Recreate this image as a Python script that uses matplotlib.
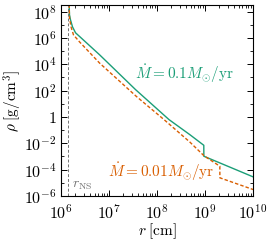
import numpy as np
import matplotlib
matplotlib.use("Agg")
import matplotlib.pyplot as plt
from matplotlib.ticker import FixedLocator, FuncFormatter, NullFormatter

plt.rcParams['mathtext.fontset'] = 'cm'
plt.rcParams['font.family'] = 'serif'
plt.rcParams['font.serif'] = ['cmr10', 'DejaVu Serif']
plt.rcParams['axes.unicode_minus'] = False

# data: log10 of radius [cm] and density [g/cm^3]
logr_high = [6.165, 6.177, 6.198, 6.24, 6.303, 6.804, 7.555, 8.25, 8.683, 8.975, 8.976, 10.004]
logrho_high = [9.0, 7.75, 7.37, 6.84, 6.39, 4.72, 2.07, -0.20, -1.34, -2.15, -2.98, -4.55]

logr_low = [6.165, 6.177, 6.209, 6.26, 6.386, 6.804, 7.57, 8.146, 8.683, 8.98, 9.309, 9.31, 10.004]
logrho_low = [9.0, 7.52, 6.84, 6.23, 5.70, 4.09, 1.56, -0.20, -1.90, -2.95, -3.74, -4.62, -5.51]

r_ns = 1.4e6
label_high = r'$\dot{M} = 0.1M_{\odot}/\mathrm{yr}$'
label_low = r'$\dot{M} = 0.01M_{\odot}/\mathrm{yr}$'

green = '#1b9e77'
orange = '#d95f02'

fig = plt.figure(figsize=(2.72, 2.41), dpi=100)
ax = fig.add_axes([61/272, 1-196/241, (253-61)/272, (196-5)/241])

ax.plot(np.power(10.0, logr_high), np.power(10.0, logrho_high), color=green, lw=1.0)
ax.plot(np.power(10.0, logr_low), np.power(10.0, logrho_low), color=orange, lw=1.0,
        ls=(0, (2.5, 1.5)))
ax.axvline(r_ns, color='0.45', lw=0.7, ls=(0, (3, 2)))

ax.set_xscale('log')
ax.set_yscale('log')
ax.set_xlim(1e6, 1e10)
ax.set_ylim(1e-6, 10**8.5)

ax.xaxis.set_major_locator(FixedLocator(10.0**np.arange(6, 11)))
ax.xaxis.set_minor_locator(FixedLocator([m * 10.0**e for e in range(6, 10) for m in range(2, 10)]))
ax.xaxis.set_minor_formatter(NullFormatter())
ax.yaxis.set_major_locator(FixedLocator(10.0**np.arange(-6, 9, 2)))
ax.yaxis.set_minor_locator(FixedLocator(10.0**np.arange(-5, 9, 2)))
ax.yaxis.set_minor_formatter(NullFormatter())

def yfmt(v, pos):
    e = int(round(np.log10(v)))
    if e == 0:
        return r'$1$'
    return r'$10^{%d}$' % e
ax.yaxis.set_major_formatter(FuncFormatter(yfmt))
ax.xaxis.set_major_formatter(FuncFormatter(lambda v, p: r'$10^{%d}$' % int(round(np.log10(v)))))

ax.tick_params(which='both', direction='in', top=True, right=True, labelsize=11.5)
ax.tick_params(which='major', length=4, width=0.7)
ax.tick_params(axis='x', which='major', pad=5)
ax.tick_params(axis='y', which='major', pad=3)
ax.tick_params(which='minor', length=2, width=0.6)
for s in ax.spines.values():
    s.set_linewidth(0.8)

ax.set_xlabel(r'$r\;[\mathrm{cm}]$', fontsize=11, labelpad=0)
ax.set_ylabel(r'$\rho\;[\mathrm{g/cm^3}]$', fontsize=11, labelpad=0)

ax.text(0.385, 0.64, label_high, transform=ax.transAxes, color=green, fontsize=11,
        ha='left', va='center')
ax.text(0.245, 0.125, label_low, transform=ax.transAxes, color=orange, fontsize=11,
        ha='left', va='center')
ax.text(0.055, 0.055, r'$r_{\mathrm{NS}}$', transform=ax.transAxes, color='0.45',
        fontsize=10, ha='left', va='center')

fig.savefig('out.png', dpi=100)
